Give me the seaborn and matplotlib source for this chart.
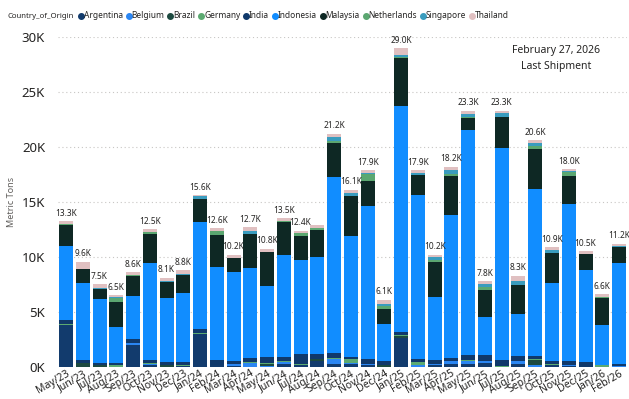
import matplotlib
matplotlib.use('Agg')
from matplotlib import pyplot as plt
from matplotlib.lines import Line2D
from matplotlib.ticker import FuncFormatter
import numpy as np
import pandas as pd
import seaborn as sns

# months on the x axis
months = ['May/23', 'Jun/23', 'Jul/23', 'Aug/23', 'Sep/23', 'Oct/23', 'Nov/23', 'Dec/23',
          'Jan/24', 'Feb/24', 'Mar/24', 'Apr/24', 'May/24', 'Jun/24', 'Jul/24', 'Aug/24',
          'Sep/24', 'Oct/24', 'Nov/24', 'Dec/24', 'Jan/25', 'Feb/25', 'Mar/25', 'Apr/25',
          'May/25', 'Jun/25', 'Jul/25', 'Aug/25', 'Sep/25', 'Oct/25', 'Nov/25', 'Dec/25',
          'Jan/26', 'Feb/26']

countries = ['Argentina', 'Belgium', 'Brazil', 'Germany', 'India', 'Indonesia',
             'Malaysia', 'Netherlands', 'Singapore', 'Thailand']
colors = ['#123B6D', '#2B86F2', '#1D4A40', '#5CAA72', '#10396B', '#118DFF',
          '#0E2824', '#5BA771', '#3A9CBE', '#E0C0C1']

# thousand metric tons per month
argentina = [3.8, 0, 0, 0, 2.0, 0.15, 0, 0.1, 3.0, 0.15, 0.1, 0, 0, 0.25, 0.2, 0.58,
             0.25, 0.25, 0.15, 0, 2.6, 0, 0.15, 0.3, 0.3, 0.4, 0, 0.3, 0, 0.2, 0.1, 0,
             0, 0]
belgium = [0, 0, 0, 0, 0.15, 0.1, 0, 0, 0, 0, 0.15, 0.35, 0.1, 0.2, 0, 0,
           0.45, 0.12, 0.15, 0, 0, 0.15, 0.1, 0.25, 0.25, 0.1, 0, 0.25, 0.15, 0, 0.1, 0,
           0, 0.05]
brazil = [0, 0.35, 0.15, 0, 0, 0, 0.15, 0, 0, 0, 0, 0, 0.2, 0, 0, 0.15,
          0, 0, 0, 0.15, 0.25, 0, 0, 0, 0, 0, 0, 0, 0.5, 0, 0, 0,
          0, 0]
germany = [0.1, 0, 0.05, 0.2, 0, 0.1, 0, 0.05, 0.1, 0.05, 0.05, 0.1, 0.05, 0.1, 0.1, 0,
           0.1, 0.35, 0, 0, 0.1, 0.3, 0.05, 0, 0.05, 0, 0.05, 0, 0.05, 0.1, 0, 0,
           0.15, 0]
india = [0.4, 0.25, 0.15, 0.2, 0.4, 0.3, 0.3, 0.3, 0.35, 0.4, 0.25, 0.4, 0.6, 0.35, 0.85, 0.45,
         0.45, 0.18, 0.4, 0.42, 0.2, 0.3, 0.35, 0.3, 0.5, 0.6, 0.6, 0.45, 0.3, 0.25, 0.35, 0.45,
         0.05, 0.25]
indonesia = [6.72, 7.0, 5.8, 3.2, 3.9, 8.8, 5.8, 6.3, 9.7, 8.5, 8.05, 8.15, 6.4, 9.3, 8.6, 8.8,
             16.0, 11.0, 13.9, 3.3, 20.55, 14.9, 5.7, 13.0, 20.4, 3.45, 19.3, 3.85, 15.15, 7.05, 14.3, 8.4,
             3.65, 9.15]
malaysia = [1.9, 1.3, 0.9, 2.3, 1.8, 2.6, 1.5, 1.6, 2.15, 2.9, 1.3, 3.1, 3.1, 3.0, 2.2, 2.5,
            3.1, 3.6, 2.35, 1.4, 4.4, 1.8, 3.2, 3.55, 1.1, 2.45, 2.8, 2.6, 3.7, 2.8, 2.5, 1.4,
            2.4, 1.45]
netherlands = [0.1, 0, 0, 0.35, 0.1, 0.2, 0, 0, 0, 0.35, 0, 0, 0, 0.1, 0.2, 0.15,
               0.2, 0, 0.55, 0.3, 0.1, 0, 0.2, 0.15, 0.1, 0.25, 0, 0, 0.25, 0, 0.35, 0.05,
               0.15, 0]
singapore = [0, 0.05, 0.1, 0.15, 0, 0, 0.05, 0.1, 0.2, 0, 0, 0.25, 0, 0, 0, 0,
             0.35, 0.3, 0.15, 0.2, 0.2, 0.2, 0.25, 0.4, 0.3, 0.25, 0.3, 0.4, 0.25, 0.2, 0.15, 0,
             0, 0.1]
thailand = [0.25, 0.6, 0.35, 0.1, 0.25, 0.25, 0.3, 0.35, 0.1, 0.25, 0.3, 0.35, 0.3, 0.2, 0.25, 0.3,
            0.3, 0.3, 0.25, 0.35, 0.6, 0.25, 0.2, 0.25, 0.3, 0.3, 0.25, 0.45, 0.25, 0.3, 0.15, 0.2,
            0.2, 0.2]

# power bi dropped this data label (overlap)
hidden_labels = ['Aug/24']

df = pd.DataFrame({
    'Argentina': argentina, 'Belgium': belgium, 'Brazil': brazil, 'Germany': germany,
    'India': india, 'Indonesia': indonesia, 'Malaysia': malaysia,
    'Netherlands': netherlands, 'Singapore': singapore, 'Thailand': thailand,
}, index=months) * 1000

sns.set_style('white')
plt.rcParams['font.family'] = ['Noto Sans', 'DejaVu Sans']

fig = plt.figure(figsize=(6.29, 3.99), dpi=100)
ax = fig.add_axes([0.0916, 0.0802, 0.9059, 0.8271])

bottom = np.zeros(len(months))
for country, color in zip(countries, colors):
    vals = df[country].values
    sns.barplot(x=months, y=vals, bottom=bottom, color=color, saturation=1,
                width=0.835, linewidth=0, ax=ax)
    bottom = bottom + vals

# total labels
for i, (m, total) in enumerate(zip(months, bottom)):
    if m in hidden_labels:
        continue
    ax.annotate(f'{round(total / 1000, 2):.1f}K', (i, total), xytext=(0, 2.5),
                textcoords='offset points', ha='center', va='bottom',
                fontsize=6, color='#252423', fontweight='semibold')

ax.set_ylim(0, 30000)
ax.set_yticks(range(0, 30001, 5000))
ax.yaxis.set_major_formatter(FuncFormatter(lambda v, p: f'{int(v / 1000)}K'))
ax.yaxis.grid(True, linestyle=(0, (1, 2.5)), color='#c8c6c4', linewidth=0.8)
ax.set_axisbelow(True)
sns.despine(ax=ax, left=True, bottom=True)
ax.tick_params(axis='y', length=0, pad=9, labelsize=9.5, labelcolor='#252423')
ax.tick_params(axis='x', length=0, pad=1, labelsize=7.5, labelcolor='#252423')
plt.setp(ax.get_xticklabels(), rotation=30, ha='right', rotation_mode='anchor')
ax.set_xlabel('')
ax.set_ylabel('Metric Tons', fontsize=6.5, color='#605E5C', labelpad=4)

# legend across the top
fig.text(8 / 629, 1 - 16 / 399, 'Country_of_Origin', fontsize=5.6, fontweight='bold',
         color='#252423', va='center', ha='left')
handles = [Line2D([], [], marker='o', linestyle='', markersize=4, color=c) for c in colors]
fig.legend(handles, countries, loc='center left', bbox_to_anchor=(79 / 629, 1 - 16 / 399),
           ncol=len(countries), frameon=False, fontsize=6,
           handlelength=0.5, handletextpad=0.1, columnspacing=0.45, borderpad=0,
           borderaxespad=0, labelcolor='#252423')

fig.text(556 / 629, 1 - 51 / 399, 'February 27, 2026', fontsize=7.5, color='#252423',
         ha='center', va='center')
fig.text(556 / 629, 1 - 67 / 399, 'Last Shipment', fontsize=7.5, color='#252423',
         ha='center', va='center')

fig.savefig('out.png', dpi=100)
